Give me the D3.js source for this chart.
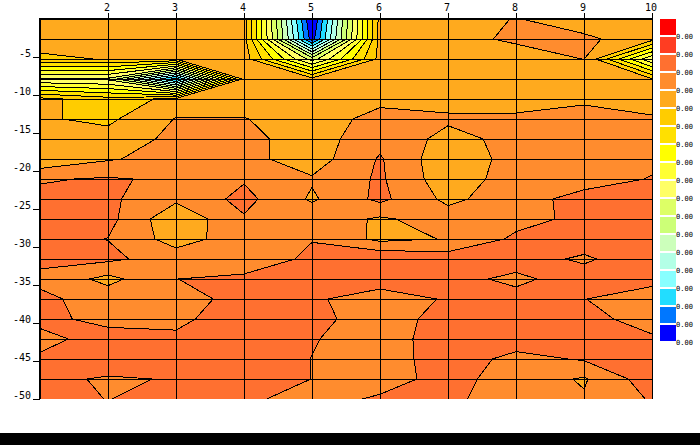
<!DOCTYPE html>
<html>
<head>
<meta charset="utf-8">
<script src="https://cdn.jsdelivr.net/npm/d3@7/dist/d3.min.js"></script>
<style>
html,body{margin:0;padding:0;background:#fff;}
svg{display:block;}
text{font-family:"DejaVu Sans Mono",monospace;fill:#000;}
</style>
</head>
<body>
<svg id="chart" width="700" height="445"></svg>
<script>
const xTicks = [2,3,4,5,6,7,8,9,10];
const yTicks = [-5,-10,-15,-20,-25,-30,-35,-40,-45,-50];
const legendLabels = ["0.00","0.00","0.00","0.00","0.00","0.00","0.00","0.00","0.00","0.00","0.00","0.00","0.00","0.00","0.00","0.00","0.00","0.00"];
const bandColors = ["#ff0000","#ff3d22","#ff7030","#ff8c2e","#ffaa1e","#ffcc00","#ffe000","#ffff00","#ffff33","#ffff66","#ddff66","#ccff77","#ccffbb","#b3ffe6","#88ffff","#22ddff","#0077ff","#0000ff"];

// one row per depth level (top to bottom), one value per x = 1..10; unit = colour band index
const row00 = [4.6,4.6,4.6,4.6,18.1,4.61,4.5,3.95,4.54,4.6];
const row01 = [4.6,4.6,4.6,4.6,17.5,4.6,4.4,3.8,3.8,4.6];
const row02 = [5.17,4.95,4.97,4.46,10.5,4.65,4.6,4.6,3.98,9.9];
const row03 = [10,10.2,16.5,4.66,4.7,4.6,4.5,4.5,4.5,4.95];
const row04 = [4.7,5.6,4.7,4.6,4.6,4.3,4.35,4.35,4.15,4.4];
const row05 = [4.9,5.2,3.95,3.95,4.6,3.6,3.85,3.85,3.65,3.9];
const row06 = [4.6,4.63,3.73,3.7,4.5,3.3,4.3,3.72,3.6,3.7];
const row07 = [4.8,4.1,3.6,3.7,4.5,2.9,4.73,3.6,3.5,3.2];
const row08 = [3.1,2.9,3.17,3.1,3.9,2.85,4.62,3.5,3.4,2.95];
const row09 = [2.7,2.8,3.8,2.7,4.14,2.75,4.25,3.4,2.66,2.7];
const row10 = [2.6,2.69,4.8,3.1,3.35,4.15,3.5,3.35,2.74,2.6];
const row11 = [2.7,3.02,4.44,3.46,3.02,4.25,3.95,2.8,2.5,2.5];
const row12 = [2.8,2.8,3.46,3.3,2.9,2.1,2.45,2.6,3.15,2.36];
const row13 = [3.2,4.3,3.004,2.9,2.6,2.6,2.71,3.2,2.55,2.7];
const row14 = [2.8,3.4,3.3,2.75,2.88,3.4,2.92,2.7,2.98,3.5];
const row15 = [2.82,3.2,3.2,2.5,2.65,3.6,2.53,2.5,2.77,3.3];
const row16 = [3.2,2.72,2.84,2.4,2.92,3.6,2.36,2.45,2.6,2.9];
const row17 = [2.9,2.5,2.5,2.3,3.02,3.6,2.4,3.32,2.9,2.5];
const row18 = [2.8,3.09,2.95,2.4,3.01,3.45,2.62,3.5,4.1,2.41];
const row19 = [2.7,3.02,2.7,2.8,3.4,2.86,2.8,3.5,3.9,2.9];
const rows = [row00,row01,row02,row03,row04,row05,row06,row07,row08,row09,row10,row11,row12,row13,row14,row15,row16,row17,row18,row19];

const nx = rows[0].length, ny = rows.length;
const plotLeft = 40, plotRight = 652, plotTop = 19, plotBottom = 399;
const x = d3.scaleLinear().domain([1,10]).range([plotLeft,plotRight]);
const y = d3.scaleLinear().domain([0,-50]).range([plotTop,plotBottom]);
const depthOfRow = d3.scaleLinear().domain([0,ny-1]).range([0,-50]);

const svg = d3.select("#chart");
svg.append("rect").attr("width",700).attr("height",445).attr("fill","#fff");
svg.append("rect").attr("x",0).attr("y",433).attr("width",700).attr("height",12).attr("fill","#000");

svg.append("defs").append("clipPath").attr("id","plot")
  .append("rect").attr("x",plotLeft).attr("y",plotTop).attr("width",plotRight-plotLeft+1).attr("height",plotBottom-plotTop);

// filled contour bands
const contours = d3.contours().size([nx,ny]).smooth(true)
  .thresholds(d3.range(2,bandColors.length))(rows.flat());
const project = d3.geoTransform({point(cx,cy){
  this.stream.point(x(cx+0.5), y(depthOfRow(cy-0.5)));
}});
const path = d3.geoPath(project);
const plot = svg.append("g").attr("clip-path","url(#plot)");
plot.selectAll("path.band").data(contours).join("path")
  .attr("class","band")
  .attr("d",path)
  .attr("fill",d=>bandColors[d.value])
  .attr("stroke","#000")
  .attr("stroke-width",1)
  .attr("shape-rendering","crispEdges");

// data grid lines
plot.selectAll("line.h").data(d3.range(1,ny-1)).join("line")
  .attr("class","h")
  .attr("x1",plotLeft).attr("x2",plotRight+1)
  .attr("y1",j=>Math.round(y(depthOfRow(j)))+0.5)
  .attr("y2",j=>Math.round(y(depthOfRow(j)))+0.5)
  .attr("stroke","#000").attr("shape-rendering","crispEdges");
plot.selectAll("line.v").data(xTicks).join("line")
  .attr("class","v")
  .attr("y1",plotTop).attr("y2",plotBottom)
  .attr("x1",d=>x(d)+0.5).attr("x2",d=>x(d)+0.5)
  .attr("stroke","#000").attr("shape-rendering","crispEdges");

// axes
const axisTop = d3.axisTop(x).tickValues(xTicks).tickSize(6).tickPadding(1).tickFormat(String);
const axisLeft = d3.axisLeft(y).tickValues(yTicks).tickSize(7).tickPadding(1).tickFormat(String);
const gx = svg.append("g").attr("transform",`translate(0,${plotTop})`).call(axisTop);
const gy = svg.append("g").attr("transform",`translate(${plotLeft},0)`).call(axisLeft);
gx.select(".domain").remove();
gy.select(".domain").remove();
gx.selectAll("line").attr("stroke","#000").attr("shape-rendering","crispEdges");
gy.selectAll("line").attr("stroke","#000").attr("shape-rendering","crispEdges");
gx.selectAll("text").attr("font-size",10).attr("font-family",'"DejaVu Sans Mono",monospace').attr("dx",-1.5).attr("y",-8);
gy.selectAll("text").attr("font-size",10).attr("font-family",'"DejaVu Sans Mono",monospace').attr("x",-9).attr("dy","-0.08em");

// heavy top and left frame
svg.append("line").attr("x1",plotLeft-1).attr("x2",plotRight+1).attr("y1",plotTop).attr("y2",plotTop)
  .attr("stroke","#000").attr("stroke-width",2).attr("shape-rendering","crispEdges");
svg.append("line").attr("x1",plotLeft).attr("x2",plotLeft).attr("y1",plotTop-1).attr("y2",plotBottom)
  .attr("stroke","#000").attr("stroke-width",2).attr("shape-rendering","crispEdges");

// legend
const legendY = d3.scaleLinear().domain([0,bandColors.length-1]).range([19,325]);
svg.append("g").selectAll("rect").data(bandColors).join("rect")
  .attr("x",660).attr("width",16).attr("height",16)
  .attr("y",(d,i)=>legendY(i)).attr("fill",d=>d).attr("shape-rendering","crispEdges");
svg.append("g").selectAll("text").data(legendLabels).join("text")
  .attr("x",676).attr("y",(d,i)=>legendY(i)+20)
  .attr("font-size",7).attr("text-anchor","start").text(d=>d);
</script>
</body>
</html>
